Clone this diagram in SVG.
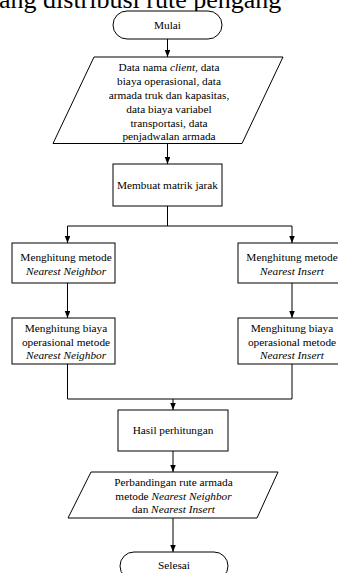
<svg xmlns="http://www.w3.org/2000/svg" width="338" height="573" viewBox="0 0 338 573">
<style>
.bg{fill:#ffffff}
.shape{fill:#ffffff;stroke:#000000;stroke-width:1}
.t{font-family:"Liberation Serif","Times New Roman",serif;font-size:11.3px;fill:#000000;text-anchor:middle}
.i{font-style:italic}
.line{fill:none;stroke:#000000;stroke-width:1}
.title{font-family:"Liberation Serif","Times New Roman",serif;font-size:26px;fill:#000000}
</style>
<defs>
<marker id="arr" markerUnits="userSpaceOnUse" markerWidth="8" markerHeight="6" refX="7" refY="2.75" orient="auto">
<path d="M0,0 L7,2.75 L0,5.5 z" fill="#000000"/>
</marker>
</defs>
<rect class="bg" x="0" y="0" width="338" height="573"/>
<text class="title" x="-1" y="7.5">ang distribusi rute pengang</text>

<g id="connectors">
<path class="line" d="M167.5,39 V57" marker-end="url(#arr)"/>
<path class="line" d="M167.5,143.5 V164" marker-end="url(#arr)"/>
<path class="line" d="M167.5,206 V226 H67.5 V243" marker-end="url(#arr)"/>
<path class="line" d="M167.5,226 H292 V243" marker-end="url(#arr)"/>
<path class="line" d="M67.5,283 V318" marker-end="url(#arr)"/>
<path class="line" d="M292,283 V318" marker-end="url(#arr)"/>
<path class="line" d="M67.5,364 V399 H292 V364"/>
<path class="line" d="M173,399 V410" marker-end="url(#arr)"/>
<path class="line" d="M173,451 V472" marker-end="url(#arr)"/>
<path class="line" d="M173,518 V552" marker-end="url(#arr)"/>
</g>

<g id="mulai">
<rect class="shape" x="113" y="11" width="109" height="28" rx="14" ry="14"/>
<text class="t" x="167.5" y="29">Mulai</text>
</g>

<g id="input-data">
<polygon class="shape" points="94,57 283,57 242,143.5 53,143.5"/>
<text class="t" x="169" y="71"><tspan>Data nama </tspan><tspan class="i">client</tspan><tspan>, data</tspan></text>
<text class="t" x="169" y="85">biaya operasional, data</text>
<text class="t" x="169" y="99">armada truk dan kapasitas,</text>
<text class="t" x="169" y="113">data biaya variabel</text>
<text class="t" x="169" y="127">transportasi, data</text>
<text class="t" x="169" y="140">penjadwalan armada</text>
</g>

<g id="matrik">
<rect class="shape" x="113" y="164" width="109" height="42"/>
<text class="t" x="167.5" y="189">Membuat matrik jarak</text>
</g>

<g id="nn-metode">
<rect class="shape" x="12" y="243" width="103" height="40"/>
<text class="t" x="66" y="260.5">Menghitung metode</text>
<text class="t i" x="66" y="274.5">Nearest Neighbor</text>
</g>

<g id="ni-metode">
<rect class="shape" x="238" y="243" width="108" height="40"/>
<text class="t" x="292" y="260.5">Menghitung metode</text>
<text class="t i" x="292" y="274.5">Nearest Insert</text>
</g>

<g id="nn-biaya">
<rect class="shape" x="12" y="318" width="103" height="46"/>
<text class="t" x="66" y="331.5">Menghitung biaya</text>
<text class="t" x="66" y="345.5">operasional metode</text>
<text class="t i" x="66" y="359">Nearest Neighbor</text>
</g>

<g id="ni-biaya">
<rect class="shape" x="238" y="318" width="108" height="46"/>
<text class="t" x="292" y="331.5">Menghitung biaya</text>
<text class="t" x="292" y="345.5">operasional metode</text>
<text class="t i" x="292" y="359">Nearest Insert</text>
</g>

<g id="hasil">
<rect class="shape" x="118" y="410" width="110" height="41"/>
<text class="t" x="173" y="434">Hasil perhitungan</text>
</g>

<g id="perbandingan">
<polygon class="shape" points="91,472 278,472 257,518 68,518"/>
<text class="t" x="173.5" y="485.5">Perbandingan rute armada</text>
<text class="t" x="173.5" y="499.5"><tspan>metode </tspan><tspan class="i">Nearest Neighbor</tspan></text>
<text class="t" x="173.5" y="513"><tspan>dan </tspan><tspan class="i">Nearest Insert</tspan></text>
</g>

<g id="selesai">
<rect class="shape" x="120" y="552" width="108" height="28" rx="14" ry="14"/>
<text class="t" x="174" y="569">Selesai</text>
</g>
</svg>
